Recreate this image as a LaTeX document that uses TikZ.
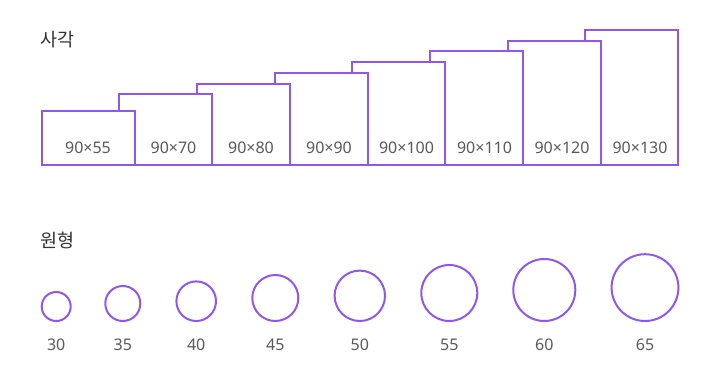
\documentclass[tikz,border=0pt]{standalone}
\usepackage{fontspec}
\setmainfont{Noto Sans CJK KR}
\newfontfamily\numfont{Noto Sans}
\usepackage{tikz}
\definecolor{linepurple}{RGB}{142,88,236}
\definecolor{labelgray}{RGB}{90,90,90}
\definecolor{titlegray}{RGB}{51,51,51}
\tikzset{
  sheet/.style={draw=linepurple, line width=2pt, fill=white},
  hole/.style={draw=linepurple, line width=2pt},
  sizetext/.style={text=labelgray, font=\numfont\fontsize{16}{19}\selectfont, inner sep=0pt},
  titletext/.style={text=titlegray, font=\fontsize{18.5}{22}\selectfont, inner sep=0pt, anchor=west}
}
\newcommand{\sheet}[3]{ \draw[sheet] ( #1 , 165 ) rectangle ( #2 , #3 );}
\newcommand{\hole}[3]{ \draw[hole] ( #1 , #2 ) circle ( #3 );}
\newcommand{\sizelabel}[4]{\node[sizetext] (#1) at ( #2 , #3 ) {#4};}

\begin{document}
\begin{tikzpicture}[x=1pt,y=-1pt]
        \useasboundingbox (0,0) rectangle (720,375);

        % rectangles, back to front
        \node[titletext] (rectTitle) at (40,40) {사각};
        \sheet{585}{678.3}{30}
        \sheet{507.7}{600.7}{41}
        \sheet{430}{523}{51}
        \sheet{351.7}{444.7}{62}
        \sheet{274.7}{367.7}{73}
        \sheet{196.7}{289.7}{83.7}
        \sheet{118.7}{211.7}{93.7}
        \sheet{41.7}{134.7}{111}

        \sizelabel{r55}{88}{148}{90×55}
        \sizelabel{r70}{173.5}{148}{90×70}
        \sizelabel{r80}{251}{148}{90×80}
        \sizelabel{r90}{329}{148}{90×90}
        \sizelabel{r100}{406.5}{148}{90×100}
        \sizelabel{r110}{484.5}{148}{90×110}
        \sizelabel{r120}{562}{148}{90×120}
        \sizelabel{r130}{640}{148}{90×130}

        % circles, bottom aligned
        \node[titletext] (circTitle) at (40,240) {원형};
        \hole{56.2}{306.5}{14.5pt}
        \hole{122.8}{303.5}{17.5pt}
        \hole{196.2}{301.2}{19.8pt}
        \hole{275.3}{298}{23pt}
        \hole{359.8}{295.8}{25.2pt}
        \hole{449.3}{293}{28pt}
        \hole{544.3}{290}{31pt}
        \hole{645}{287.6}{33.4pt}

        \sizelabel{c30}{56.2}{345}{30}
        \sizelabel{c35}{122.8}{345}{35}
        \sizelabel{c40}{196.2}{345}{40}
        \sizelabel{c45}{275.3}{345}{45}
        \sizelabel{c50}{359.8}{345}{50}
        \sizelabel{c55}{449.3}{345}{55}
        \sizelabel{c60}{544.3}{345}{60}
        \sizelabel{c65}{645}{345}{65}
    \end{tikzpicture}
\end{document}
